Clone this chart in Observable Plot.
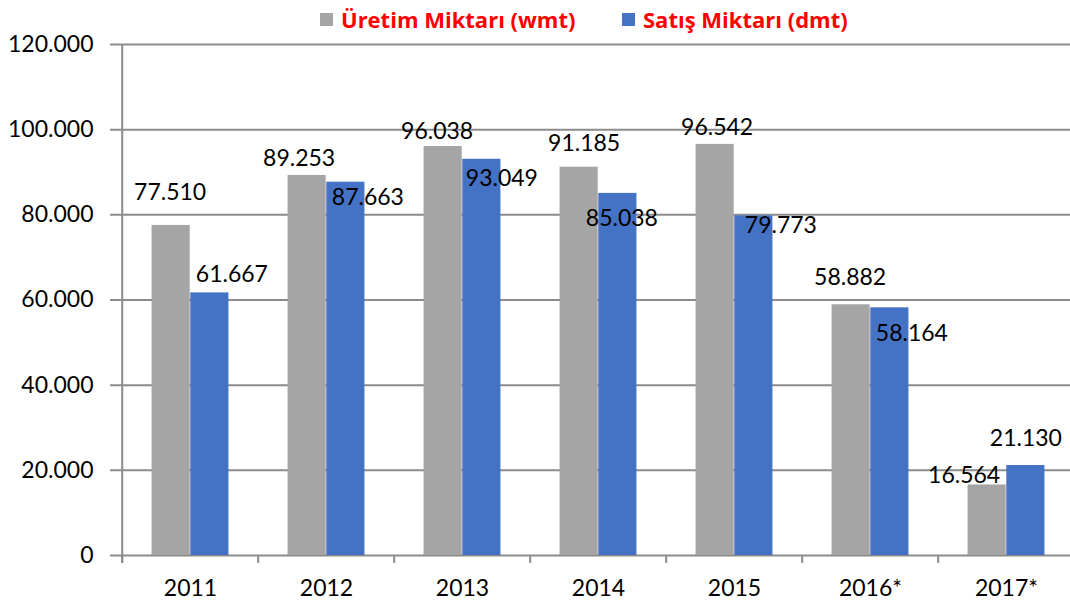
<!DOCTYPE html>
<html>
<head>
<meta charset="utf-8">
<script src="https://cdn.jsdelivr.net/npm/d3@7"></script>
<script src="https://cdn.jsdelivr.net/npm/@observablehq/plot@0.6"></script>
<style>
  body { margin: 0; background: #fff; font-family: Lato, "Open Sans", sans-serif; }
  #wrap { position: relative; width: 1070px; height: 605px; overflow: hidden; }
  #legend { position: relative; height: 36px; }
  .item { position: absolute; top: 2px; height: 34px; display: inline-flex; align-items: center; white-space: nowrap; color: #FF0000; font-family: "Open Sans", sans-serif; font-weight: bold; font-size: 22px; }
  .sw { width: 13px; height: 13px; margin-right: 8px; display: inline-block; }
</style>
</head>
<body>
<div id="wrap">
  <div id="legend"></div>
  <div id="chart"></div>
</div>
<script>
// ---- data ----
const years = ["2011", "2012", "2013", "2014", "2015", "2016*", "2017*"];
const seriesNames = ["Üretim Miktarı (wmt)", "Satış Miktarı (dmt)"];
const uretim = [77510, 89253, 96038, 91185, 96542, 58882, 16564];
const satis = [61667, 87663, 93049, 85038, 79773, 58164, 21130];
const yTicks = [0, 20000, 40000, 60000, 80000, 100000, 120000];

// ---- layout: legend item positions, label pixel nudges from bar top centre ----
const legendLeft = [320, 622];
const nudgeUretim = [[-1, -33], [-8, -17], [-6, -15], [5, -24], [2, -17], [-1, -27], [-23, -9]];
const nudgeSatis = [[22, -18], [22, 15], [20, 19], [4, 25], [27, 10], [22, 26], [0, -27]];

const colors = ["#A5A5A5", "#4472C4"];
const gridColor = "#8C8C8C";

const fmt = d3.formatLocale({decimal: ",", thousands: ".", grouping: [3], currency: ["", ""]}).format(",d");

// legend
const legend = document.getElementById("legend");
seriesNames.forEach((name, i) => {
  const it = document.createElement("span");
  it.className = "item";
  it.style.left = legendLeft[i] + "px";
  const sw = document.createElement("span");
  sw.className = "sw";
  sw.style.background = colors[i];
  it.appendChild(sw);
  it.appendChild(document.createTextNode(name));
  legend.appendChild(it);
});

const rowsU = years.map((y, i) => ({year: y, value: uretim[i]}));
const rowsS = years.map((y, i) => ({year: y, value: satis[i]}));

const W = 1070, H = 569, mL = 120, mR = -6, mT = 8, mB = 50;
const bw = (W - mR - mL) / years.length;
const barW = 38.7;
const fs = 23;

const labelMarks = [];
rowsU.forEach((r, i) => labelMarks.push(Plot.text([r], {
  x: "year", y: "value", text: d => fmt(d.value), fontSize: fs, fill: "#000",
  dx: -barW / 2 + nudgeUretim[i][0], dy: nudgeUretim[i][1]
})));
rowsS.forEach((r, i) => labelMarks.push(Plot.text([r], {
  x: "year", y: "value", text: d => fmt(d.value), fontSize: fs, fill: "#000",
  dx: barW / 2 + nudgeSatis[i][0], dy: nudgeSatis[i][1]
})));

const chart = Plot.plot({
  width: W, height: H,
  marginLeft: mL, marginRight: mR, marginTop: mT, marginBottom: mB,
  style: {fontFamily: "Lato, 'Open Sans', sans-serif", fontSize: fs + "px", color: "#000", background: "#fff", overflow: "visible"},
  x: {domain: years, padding: 0, tickSize: 0, tickPadding: 24, label: null},
  y: {domain: [0, 120000], ticks: yTicks, tickFormat: fmt, tickSize: 0, tickPadding: 27, label: null},
  marks: [
    Plot.ruleY(yTicks, {y: d => d, stroke: gridColor, strokeWidth: 2, insetLeft: -10}),
    Plot.barY(rowsU, {x: "year", y: "value", fill: colors[0], insetLeft: bw / 2 - barW, insetRight: bw / 2}),
    Plot.barY(rowsS, {x: "year", y: "value", fill: colors[1], insetLeft: bw / 2, insetRight: bw / 2 - barW}),
    Plot.ruleX([years[0]], {x: d => d, dx: -bw / 2, y1: 120000, y2: 0, insetBottom: -8, stroke: gridColor, strokeWidth: 2}),
    Plot.ruleX(years, {x: d => d, dx: -bw / 2, y1: 0, y2: 0, insetBottom: -8, stroke: gridColor, strokeWidth: 2}),
    ...labelMarks
  ]
});
document.getElementById("chart").appendChild(chart);
</script>
</body>
</html>
